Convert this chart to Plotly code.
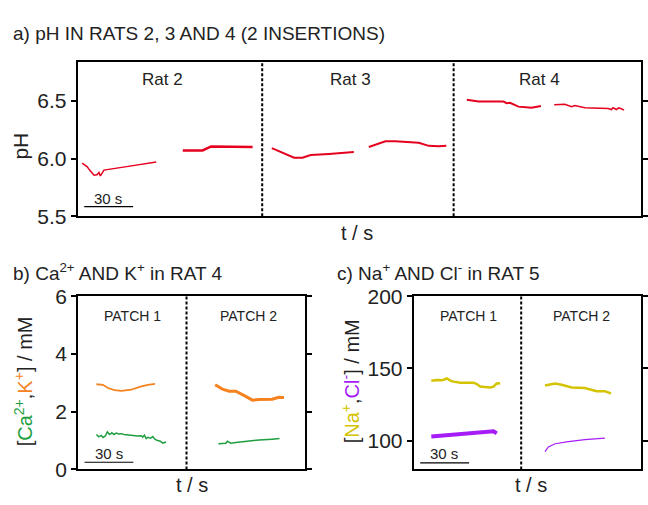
import plotly.graph_objects as go

# ---------------- data ----------------
# Panel a: pH (time in s, value in pH units)
rat2_ins1_t = [2.7, 5.7, 7.3, 10.0, 11.8, 13.0, 13.9, 16.1, 30.0, 48.2]
rat2_ins1_ph = [5.96, 5.93, 5.90, 5.855, 5.86, 5.88, 5.85, 5.90, 5.93, 5.97]
rat2_ins2_t = [64.5, 76.7, 81.9, 107.4]
rat2_ins2_ph = [6.07, 6.07, 6.105, 6.10]
rat3_ins1_t = [119.2, 132.9, 138.0, 143.1, 154.3, 169.6]
rat3_ins1_ph = [6.09, 6.007, 6.007, 6.03, 6.04, 6.056]
rat3_ins2_t = [178.8, 189.0, 195.0, 209.4, 215.6, 221.7, 226.4]
rat3_ins2_ph = [6.10, 6.15, 6.15, 6.137, 6.11, 6.106, 6.11]
rat4_ins1_t = [239.0, 246.2, 261.5, 263.5, 265.5, 270.7, 278.8, 284.5]
rat4_ins1_ph = [6.51, 6.494, 6.494, 6.48, 6.483, 6.45, 6.44, 6.456]
rat4_ins2_t = [292.7, 299.2, 303.3, 305.4, 311.5, 325.8, 327.8, 328.8, 330.9, 332.3, 333.5, 335.6]
rat4_ins2_ph = [6.467, 6.47, 6.45, 6.46, 6.44, 6.434, 6.425, 6.44, 6.425, 6.44, 6.434, 6.42]

# Panel b: Ca2+ and K+ in rat 4 (mM)
k_p1_t = [11.3, 15.3, 18.4, 22.5, 26.6, 32.7, 37.8, 42.9, 47.4]
k_p1_v = [2.95, 2.93, 2.82, 2.75, 2.72, 2.76, 2.86, 2.93, 2.96]
k_p2_t = [84.3, 88.8, 92.9, 97.0, 103.1, 107.2, 111.3, 115.4, 119.4, 123.5, 126.6]
k_p2_v = [2.93, 2.78, 2.71, 2.71, 2.53, 2.40, 2.42, 2.43, 2.43, 2.50, 2.49]
ca_p1_t = [11.3, 12.7, 14.3, 15.3, 16.8, 18.0, 19.4, 20.8, 22.0, 23.5, 24.9, 26.6, 28.2,
           30.6, 33.7, 36.7, 38.8, 39.8, 40.8, 41.9, 42.9, 44.5, 45.9, 47.4, 49.0, 50.6,
           52.1, 53.1, 54.1]
ca_p1_v = [1.21, 1.13, 1.18, 1.11, 1.16, 1.30, 1.21, 1.27, 1.21, 1.26, 1.23, 1.24, 1.21,
           1.19, 1.17, 1.16, 1.17, 1.12, 1.19, 1.07, 1.11, 1.08, 1.14, 1.04, 1.00, 0.98,
           0.91, 0.93, 0.95]
ca_p2_t = [86.3, 90.8, 91.8, 93.9, 97.0, 103.1, 111.3, 119.4, 123.9]
ca_p2_v = [0.89, 0.91, 0.98, 0.91, 0.93, 0.97, 1.02, 1.05, 1.07]

# Panel c: Na+ and Cl- in rat 5 (mM)
na_p1_t = [10.8, 14.3, 17.3, 20.4, 22.4, 24.5, 28.6, 33.7, 36.7, 38.8, 40.8, 43.9, 47.0, 49.0, 51.0, 53.1]
na_p1_v = [141.5, 141.9, 141.7, 143.0, 141.5, 140.8, 140.1, 140.4, 140.1, 139.1, 137.5, 137.1,
           136.8, 137.3, 139.5, 139.7]
na_p2_t = [80.6, 86.8, 90.8, 97.0, 105.1, 112.3, 117.4, 121.1]
na_p2_v = [138.1, 139.5, 138.6, 136.8, 136.4, 134.2, 134.2, 132.6]
cl_p1_t = [10.8, 19.4, 29.6, 35.7, 41.8, 47.0, 49.0, 51.0]
cl_p1_v = [102.8, 103.7, 104.8, 105.7, 106.2, 106.6, 106.4, 105.0]
cl_p2_t = [80.6, 82.7, 86.8, 95.0, 105.1, 117.4]
cl_p2_v = [92.3, 95.6, 97.8, 99.3, 100.6, 101.7]

# section dividers (s) and labels
a_dividers = [113.3, 230.9]
b_dividers = [66.7]
c_dividers = [66.0]
a_labels = ["Rat 2", "Rat 3", "Rat 4"]
patch_labels = ["PATCH 1", "PATCH 2"]
scale_bar_s = [4.0, 34.0]
a_ticks = [5.5, 6.0, 6.5]
b_ticks = [0, 2, 4, 6]
c_ticks = [100, 150, 200]

RED = "#e5001e"
ORANGE = "#f5821f"
GREEN = "#1f9e3f"
YELLOW = "#d3c300"
PURPLE = "#a61cf7"
FONT = "Liberation Sans, Arial, sans-serif"
W, H = 648, 505


def P(xpx, ypx):
    return xpx / W, 1 - ypx / H


fig = go.Figure()


def line(t, v, color, width, xa, ya):
    fig.add_trace(go.Scatter(x=t, y=v, mode="lines", line=dict(color=color, width=width),
                             xaxis=xa, yaxis=ya, showlegend=False, hoverinfo="skip"))


line(rat2_ins1_t, rat2_ins1_ph, RED, 1.5, "x", "y")
line(rat2_ins2_t, rat2_ins2_ph, RED, 2.5, "x", "y")
line(rat3_ins1_t, rat3_ins1_ph, RED, 2, "x", "y")
line(rat3_ins2_t, rat3_ins2_ph, RED, 2, "x", "y")
line(rat4_ins1_t, rat4_ins1_ph, RED, 2, "x", "y")
line(rat4_ins2_t, rat4_ins2_ph, RED, 1.5, "x", "y")

line(k_p1_t, k_p1_v, ORANGE, 1.8, "x2", "y2")
line(k_p2_t, k_p2_v, ORANGE, 3, "x2", "y2")
line(ca_p1_t, ca_p1_v, GREEN, 1.5, "x2", "y2")
line(ca_p2_t, ca_p2_v, GREEN, 1.5, "x2", "y2")

line(na_p1_t, na_p1_v, YELLOW, 2.5, "x3", "y3")
line(na_p2_t, na_p2_v, YELLOW, 2.5, "x3", "y3")
line(cl_p1_t, cl_p1_v, PURPLE, 4, "x3", "y3")
line(cl_p2_t, cl_p2_v, PURPLE, 1.2, "x3", "y3")

xcommon = dict(showline=True, mirror=True, linewidth=2, linecolor="black", ticks="",
               showticklabels=False, showgrid=False, zeroline=False, fixedrange=True)
ycommon = dict(showline=True, mirror="ticks", linewidth=2, linecolor="black", ticks="outside",
               ticklen=5, tickwidth=2, tickcolor="black", showgrid=False, zeroline=False,
               tickfont=dict(family=FONT, size=21, color="#222"))

fig.update_layout(
    width=W, height=H, margin=dict(l=0, r=0, t=0, b=0),
    paper_bgcolor="white", plot_bgcolor="white",
    font=dict(family=FONT, color="#222"),
    xaxis=dict(xcommon, domain=[78 / W, 643 / W], range=[0, 346], anchor="y"),
    yaxis=dict(ycommon, domain=[1 - 214 / H, 1 - 52 / H], range=[5.5, 6.84],
               tickvals=a_ticks, tickformat=".1f", anchor="x"),
    xaxis2=dict(xcommon, domain=[78.3 / W, 306 / W], range=[0, 139.6], anchor="y2"),
    yaxis2=dict(ycommon, domain=[1 - 479.3 / H, 1 - 297.7 / H], range=[0, 6],
                tickvals=b_ticks, anchor="x2"),
    xaxis3=dict(xcommon, domain=[415 / W, 642.7 / W], range=[0, 139.4], anchor="y3"),
    yaxis3=dict(ycommon, domain=[1 - 479.3 / H, 1 - 297.7 / H], range=[80, 200],
                tickvals=c_ticks, anchor="x3"),
)

shapes = []
for xa, ya, divs in (("x", "y", a_dividers), ("x2", "y2", b_dividers), ("x3", "y3", c_dividers)):
    for d in divs:
        shapes.append(dict(type="line", xref=xa, yref=ya + " domain", x0=d, x1=d, y0=0, y1=1,
                           line=dict(color="black", width=2, dash="3px,2px")))
# scale bars
for xa, ya, yv in (("x", "y", 5.583), ("x2", "y2", 0.25), ("x3", "y3", 84.5)):
    shapes.append(dict(type="line", xref=xa, yref=ya, x0=scale_bar_s[0], x1=scale_bar_s[1],
                       y0=yv, y1=yv, line=dict(color="black", width=1.2)))
fig.update_layout(shapes=shapes)

ann = []


def text(xpx, ypx, s, size, xanchor="center", angle=0, color="#222"):
    x, y = P(xpx, ypx)
    ann.append(dict(x=x, y=y, xref="paper", yref="paper", text=s, showarrow=False,
                    xanchor=xanchor, yanchor="middle", textangle=angle,
                    font=dict(family=FONT, size=size, color=color)))


# titles
text(11, 23, "a) pH IN RATS 2, 3 AND 4 (2 INSERTIONS)", 19, xanchor="left")
text(11, 272, "b) Ca<sup>2+</sup> AND K<sup>+</sup> in RAT 4", 19, xanchor="left")
text(336, 272, "c) Na<sup>+</sup> AND Cl<sup>-</sup> in RAT 5", 19, xanchor="left")

# section labels
for xp, lab in zip([163, 352, 541], a_labels):
    text(xp, 71, lab, 17)
for xp, lab in zip([132.7, 249.3], patch_labels):
    text(xp, 319, lab, 14)
for xp, lab in zip([470, 583.3], patch_labels):
    text(xp, 319, lab, 14)

# scale bar labels
text(108, 195, "30 s", 15)
text(109.5, 463, "30 s", 15)
text(445.5, 463, "30 s", 15)

# axis titles
text(358, 232, "t / s", 20)
text(193, 496, "t / s", 20)
text(533, 496, "t / s", 20)
text(21, 140, "pH", 21, angle=-90)
text(23, 387, "[<span style='color:%s'>Ca<sup>2+</sup></span>,"
              "<span style='color:%s'>K<sup>+</sup></span>] / mM" % (GREEN, ORANGE), 20, angle=-90)
text(351, 387, "[<span style='color:%s'>Na<sup>+</sup></span>,"
               "<span style='color:%s'>Cl<sup>-</sup></span>] / mM" % (YELLOW, PURPLE), 20, angle=-90)

fig.update_layout(annotations=ann)
fig.write_html("out.html")
